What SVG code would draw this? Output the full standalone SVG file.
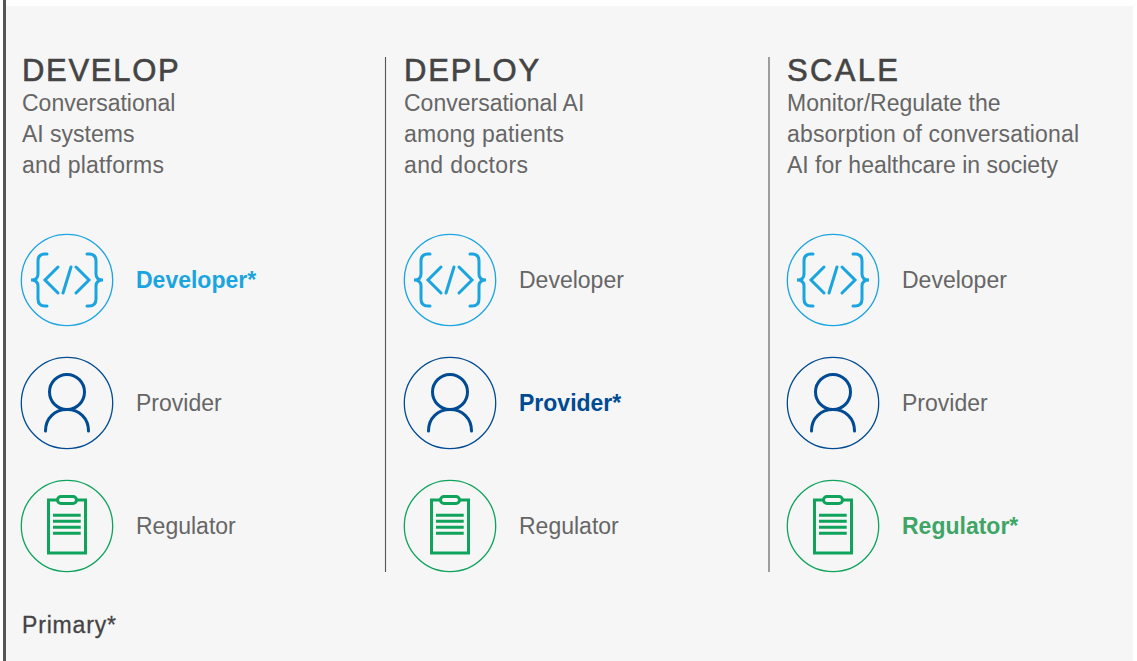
<svg xmlns="http://www.w3.org/2000/svg" width="1137" height="661" viewBox="0 0 1137 661">
<style>
text{font-family:"Liberation Sans",Arial,sans-serif}
.h{font-size:31px;fill:#444;letter-spacing:1.7px;stroke:#444;stroke-width:.6px}
.s{font-size:23px;fill:#666}
.l{font-size:23px;fill:#666}
.b{font-size:23px;font-weight:bold}
.ic{fill:none;stroke-linecap:round}
.ring{stroke-width:1.3}
.dev{stroke:#1ba5e0;stroke-width:3}
.pro{stroke:#004b93;stroke-width:3}
.reg{stroke:#0fa35c;stroke-width:3}
.sep{stroke:#555;stroke-width:1.1}
</style>
<defs>
<g id="i-dev" class="ic dev">
<circle class="ring" r="45.700"/>
<path d="M-20-26H-22C-26.500-26-29-23.500-29-19V-6C-29-2-31 0-36 0C-31 0-29 2-29 6V19C-29 23.500-26.500 26-22 26H-20"/>
<path d="M20-26H22C26.500-26 29-23.500 29-19V-6C29-2 31 0 36 0C31 0 29 2 29 6V19C29 23.500 26.500 26 22 26H20"/>
<path d="M-9-13L-22 0L-9 13M9-13L22 0L9 13M4-13L-4 13"/>
</g>
<g id="i-pro" class="ic pro">
<circle class="ring" r="45.700"/>
<circle cx="0" cy="-11" r="17.500"/>
<path d="M-21.500 28C-21.500 15-12 6.500 0 6.500S21.500 15 21.500 28"/>
</g>
<g id="i-reg" class="ic reg">
<circle class="ring" r="45.700"/>
<path d="M-9-26H-18.500V27H18.500V-26H9" stroke-linecap="butt"/>
<rect x="-9.500" y="-29.500" width="19" height="7" rx="3.500"/>
<path d="M-14-10.700H13.700M-14-4.700H13.700M-14 1.300H13.700M-14 7.300H13.700" stroke-linecap="butt"/>
</g>
</defs>
<rect width="1137" height="661" fill="#fff"/>
<rect x="6" y="6" width="1127" height="655" fill="#f6f6f6"/>
<rect x="3" y="0" width="3" height="661" fill="#555"/>
<g id="connectors">
<line class="sep" x1="385.500" y1="57" x2="385.500" y2="572"/>
<line class="sep" x1="769" y1="57" x2="769" y2="572"/>
</g>
<g id="develop-head">
<text class="h" x="22" y="80.500">DEVELOP</text>
<text class="s" x="22" y="111">Conversational</text>
<text class="s" x="22" y="142">AI systems</text>
<text class="s" x="22" y="173" textLength="142">and platforms</text>
</g>
<g id="deploy-head">
<text class="h" x="404" y="80.500" style="letter-spacing:1.9px">DEPLOY</text>
<text class="s" x="404" y="111">Conversational AI</text>
<text class="s" x="404" y="142" textLength="160">among patients</text>
<text class="s" x="404" y="173" textLength="124">and doctors</text>
</g>
<g id="scale-head">
<text class="h" x="787" y="80.500" style="letter-spacing:2.3px">SCALE</text>
<text class="s" x="787" y="111">Monitor/Regulate the</text>
<text class="s" x="787" y="142" textLength="292">absorption of conversational</text>
<text class="s" x="787" y="173">AI for healthcare in society</text>
</g>
<g id="develop-developer"><use href="#i-dev" x="67" y="280"/><text class="b" x="136" y="288" fill="#1ba5e0">Developer*</text></g>
<g id="develop-provider"><use href="#i-pro" x="67" y="403"/><text class="l" x="136" y="411">Provider</text></g>
<g id="develop-regulator"><use href="#i-reg" x="67" y="526"/><text class="l" x="136" y="534">Regulator</text></g>
<g id="deploy-developer"><use href="#i-dev" x="450" y="280"/><text class="l" x="519" y="288">Developer</text></g>
<g id="deploy-provider"><use href="#i-pro" x="450" y="403"/><text class="b" x="519" y="411" fill="#004b93">Provider*</text></g>
<g id="deploy-regulator"><use href="#i-reg" x="450" y="526"/><text class="l" x="519" y="534">Regulator</text></g>
<g id="scale-developer"><use href="#i-dev" x="833" y="280"/><text class="l" x="902" y="288">Developer</text></g>
<g id="scale-provider"><use href="#i-pro" x="833" y="403"/><text class="l" x="902" y="411">Provider</text></g>
<g id="scale-regulator"><use href="#i-reg" x="833" y="526"/><text class="b" x="902" y="534" fill="#3fa566">Regulator*</text></g>
<text id="primary" x="22" y="633" font-size="23" fill="#444" stroke="#444" stroke-width=".3" textLength="94">Primary*</text>
</svg>
